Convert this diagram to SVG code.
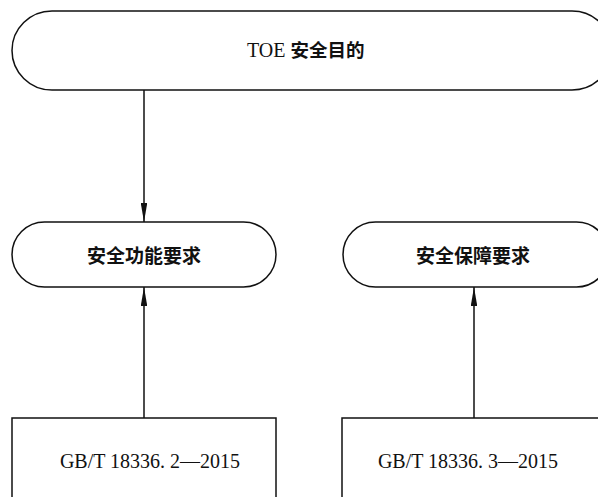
<svg xmlns="http://www.w3.org/2000/svg" width="598" height="497" viewBox="0 0 598 497">
<style>
.box{fill:#fff;stroke:#111;stroke-width:1.5}
.cn{font-family:"Noto Sans CJK SC",sans-serif;font-size:19px;font-weight:bold;fill:#111;text-anchor:middle}
.en{font-family:"Liberation Serif",serif;font-size:20px;fill:#111;text-anchor:middle}
.line{stroke:#111;stroke-width:1.5;fill:none}
</style>
<defs>
<marker id="ah" viewBox="0 0 10 10" refX="10" refY="5" markerWidth="19" markerHeight="6.5" markerUnits="userSpaceOnUse" orient="auto" preserveAspectRatio="none">
<path d="M0,0 L10,5 L0,10 Z" fill="#111"/>
</marker>
</defs>
<rect width="598" height="497" fill="#fff"/>
<g id="connectors">
<line class="line" x1="144" y1="90" x2="144" y2="222" marker-end="url(#ah)"/>
<line class="line" x1="144" y1="418" x2="144" y2="287" marker-end="url(#ah)"/>
<line class="line" x1="474" y1="418" x2="474" y2="287" marker-end="url(#ah)"/>
</g>
<g id="toe">
<rect class="box" x="12" y="11" width="600" height="79" rx="40" ry="39.5"/>
<text x="247" y="57" fill="#111"><tspan font-family="Liberation Serif, serif" font-size="20">TOE </tspan><tspan font-family="Noto Sans CJK SC, sans-serif" font-weight="bold" font-size="18.5">安全目的</tspan></text>
</g>
<g id="sfr">
<rect class="box" x="12" y="222" width="264" height="65" rx="32.5" ry="32.5"/>
<text class="cn" x="144" y="263">安全功能要求</text>
</g>
<g id="sar">
<rect class="box" x="343" y="222" width="266" height="65" rx="32.5" ry="32.5"/>
<text class="cn" x="473" y="263">安全保障要求</text>
</g>
<g id="part2">
<rect class="box" x="12" y="418" width="264" height="100"/>
<text class="en" x="150" y="468">GB/T 18336. 2—2015</text>
</g>
<g id="part3">
<rect class="box" x="342" y="418" width="270" height="100"/>
<text class="en" x="468" y="468">GB/T 18336. 3—2015</text>
</g>
</svg>
